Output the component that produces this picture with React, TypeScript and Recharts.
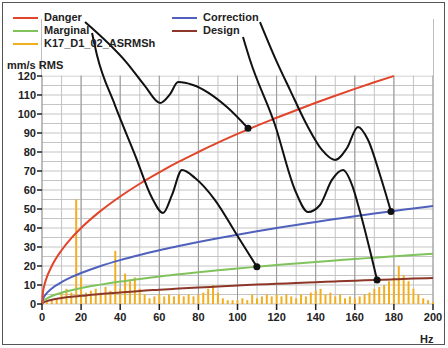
import {
  ComposedChart,
  Line,
  Bar,
  XAxis,
  YAxis,
  CartesianGrid,
  ReferenceArea,
  ReferenceDot,
} from "recharts";

// axis ticks and grid positions
const FREQ_TICKS = [0, 20, 40, 60, 80, 100, 120, 140, 160, 180, 200];
const LEVEL_TICKS = [0, 10, 20, 30, 40, 50, 60, 70, 80, 90, 100, 110, 120];
const GRID_HZ = [0, 10, 20, 30, 40, 50, 60, 70, 80, 90, 100, 110, 120, 130, 140, 150, 160, 170, 180, 190, 200];
const GRID_LEVEL = [0, 5, 10, 15, 20, 25, 30, 35, 40, 45, 50, 55, 60, 65, 70, 75, 80, 85, 90, 95, 100, 105, 110, 115, 120];

// limit curves (mm/s RMS)
const CURVE_HZ = [0, 0.5, 1, 2, 5, 10, 15, 20, 30, 40, 50, 60, 70, 80, 90, 100, 110, 120, 130, 140, 150, 160, 170, 180, 190, 200];
const DANGER = [0, 6.3, 9, 12.7, 20, 28.3, 34.7, 40, 49, 56.6, 63.3, 69.3, 74.9, 80, 84.9, 89.5, 93.9, 98, 102, 105.9, 109.6, 113.2, 116.7, 120, null, null];
const CORRECTION = [0, 2.6, 3.7, 5.2, 8.2, 11.5, 14.1, 16.3, 20, 23.1, 25.8, 28.3, 30.5, 32.6, 34.6, 36.5, 38.3, 40, 41.6, 43.2, 44.7, 46.2, 47.6, 49, 50.3, 51.6];
const MARGINAL = [0, 1.3, 1.9, 2.6, 4.2, 5.9, 7.2, 8.4, 10.2, 11.8, 13.2, 14.5, 15.6, 16.7, 17.7, 18.7, 19.6, 20.5, 21.3, 22.1, 22.9, 23.7, 24.4, 25.1, 25.8, 26.4];
const DESIGN = [0, 0.7, 1, 1.4, 2.2, 3.1, 3.8, 4.3, 5.3, 6.1, 6.9, 7.5, 8.1, 8.7, 9.2, 9.7, 10.2, 10.6, 11.1, 11.5, 11.9, 12.3, 12.6, 13, 13.4, 13.7];

// measured spectrum K17_D1_02_ASRMSh
const SPEC_HZ = [
  2.5, 5, 7.5, 10, 12.5, 15, 17.5, 20, 22.5, 25, 27.5, 30, 32.5, 35, 37.5, 40, 42.5, 45, 47.5, 50,
  52.5, 55, 57.5, 60, 62.5, 65, 67.5, 70, 72.5, 75, 77.5, 80, 82.5, 85, 87.5, 90, 92.5, 95, 97.5, 100,
  102.5, 105, 107.5, 110, 112.5, 115, 117.5, 120, 122.5, 125, 127.5, 130, 132.5, 135, 137.5, 140, 142.5, 145, 147.5, 150,
  152.5, 155, 157.5, 160, 162.5, 165, 167.5, 170, 172.5, 175, 177.5, 180, 182.5, 185, 187.5, 190, 192.5, 195, 197.5, 200,
];
const SPEC_AMP = [
  1, 2, 3, 6, 8, 6, 55, 14, 6, 7, 8, 6, 9, 7, 28, 8, 16, 12, 14, 8,
  5, 3, 4, 5, 4, 5, 4, 5, 4, 5, 4, 5, 6, 8, 10, 6, 3, 2, 2, 2,
  3, 2, 5, 3, 4, 5, 4, 5, 4, 5, 4, 3, 5, 4, 6, 7, 8, 5, 6, 4,
  5, 3, 4, 3, 4, 5, 6, 8, 9, 10, 12, 14, 20, 15, 12, 8, 5, 3, 2, 1,
];

// callout lines from legend labels to curves
const DANGER_CALL_HZ = [22, 43.5, 52.7, 60.4, 65.5, 69.6, 77.2, 94.6, 105.4];
const DANGER_CALL_V = [148.4, 126.8, 114.7, 105.8, 110.5, 116.8, 115.3, 103.7, 92.5];
const MARGINAL_CALL_HZ = [25.6, 28.1, 37.3, 47.6, 56.3, 61.9, 66.5, 71.6, 78.3, 88.5, 99.7, 109.9];
const MARGINAL_CALL_V = [142.6, 131.1, 104.7, 78.4, 55.8, 47.9, 57.4, 70.5, 66.3, 54.7, 36.3, 19.6];
const DESIGN_CALL_HZ = [102.8, 106.4, 119.2, 129.4, 136.1, 142.2, 148.3, 154, 158.6, 162.7, 171.4];
const DESIGN_CALL_V = [140.5, 128.4, 94.2, 60, 48.4, 52.1, 65.3, 70.5, 62.6, 48.4, 12.6];
const CORRECTION_CALL_HZ = [111.5, 119.7, 126.9, 135.5, 143.2, 149.9, 156, 161.6, 166.8, 172.9, 178.5];
const CORRECTION_CALL_V = [148.4, 128.4, 112.6, 94.2, 81.1, 75.8, 82.1, 93.2, 86.3, 67.9, 48.7];

const RED = "#e2452b";
const BLUE = "#4f60bd";
const GREEN = "#80c35c";
const BROWN = "#8c3727";
const ORANGE = "#f3ae20";
const FONT = "'Liberation Sans', Arial, sans-serif";

const spectrum = SPEC_HZ.map((hz, i) => ({ hz, amp: SPEC_AMP[i] }));
const curves = CURVE_HZ.map((hz, i) => ({
  hz,
  danger: DANGER[i],
  correction: CORRECTION[i],
  marginal: MARGINAL[i],
  design: DESIGN[i],
}));
const callout = (hzs: number[], vs: number[]) => hzs.map((hz, i) => ({ hz, v: vs[i] }));
const callouts = [
  callout(DANGER_CALL_HZ, DANGER_CALL_V),
  callout(MARGINAL_CALL_HZ, MARGINAL_CALL_V),
  callout(DESIGN_CALL_HZ, DESIGN_CALL_V),
  callout(CORRECTION_CALL_HZ, CORRECTION_CALL_V),
];

const tickStyle = { fontSize: 11, fontWeight: 700, fill: "#222", fontFamily: FONT };
const textStyle: React.CSSProperties = {
  position: "absolute",
  fontSize: 11,
  fontWeight: 700,
  color: "#222",
  fontFamily: FONT,
  lineHeight: "13px",
  whiteSpace: "nowrap",
};

// thin spectral spike, centred on the bar's x position
const Spike = (props: any) => {
  const { x, y, width, height } = props;
  if (!height || height <= 0) return <g />;
  const cx = x + (width || 0) / 2;
  return <rect x={cx - 1} y={y} width={2} height={height} fill={ORANGE} />;
};

function LegendItem({ x, y, color, label }: { x: number; y: number; color: string; label: string }) {
  return (
    <>
      <div style={{ position: "absolute", left: x, top: y - 1, width: 25, height: 2, background: color }} />
      <div style={{ ...textStyle, left: x + 31, top: y - 7 }}>{label}</div>
    </>
  );
}

export default function App() {
  return (
    <div style={{ position: "absolute", left: 0, top: 0, width: 448, height: 348, background: "#fff" }}>
      <ComposedChart
        width={448}
        height={348}
        data={spectrum}
        margin={{ top: 19, right: 15, left: 6, bottom: 14 }}
      >
        <CartesianGrid stroke="#c4c4c4" strokeWidth={1} verticalValues={GRID_HZ} horizontalValues={GRID_LEVEL} />
        <CartesianGrid stroke="#999" strokeWidth={1} horizontal={false} verticalValues={FREQ_TICKS} />
        <ReferenceArea x1={0} x2={200} y1={120.3} y2={150} fill="#fff" fillOpacity={1} stroke="none" />
        <XAxis
          dataKey="hz"
          type="number"
          domain={[0, 200]}
          ticks={FREQ_TICKS}
          axisLine={false}
          tickLine={{ stroke: "#222", strokeWidth: 1.5 }}
          tickSize={6}
          tickMargin={3}
          height={30}
          tick={tickStyle}
          interval={0}
        />
        <YAxis
          type="number"
          domain={[0, 150]}
          ticks={LEVEL_TICKS}
          axisLine={false}
          tickLine={{ stroke: "#222", strokeWidth: 1.5 }}
          tickSize={5}
          tickMargin={1}
          width={36}
          tick={tickStyle}
          interval={0}
        />
        <Bar dataKey="amp" fill={ORANGE} barSize={2} shape={Spike} isAnimationActive={false} />
        <Line data={curves} dataKey="design" type="monotone" stroke={BROWN} strokeWidth={2} dot={false} isAnimationActive={false} />
        <Line data={curves} dataKey="marginal" type="monotone" stroke={GREEN} strokeWidth={2} dot={false} isAnimationActive={false} />
        <Line data={curves} dataKey="correction" type="monotone" stroke={BLUE} strokeWidth={2} dot={false} isAnimationActive={false} />
        <Line data={curves} dataKey="danger" type="monotone" stroke={RED} strokeWidth={2} dot={false} isAnimationActive={false} />
        {callouts.map((pts, i) => (
          <Line
            key={`call-${i}`}
            data={pts}
            dataKey="v"
            type="monotone"
            stroke="#111"
            strokeWidth={2}
            dot={false}
            isAnimationActive={false}
          />
        ))}
        {callouts.map((pts, i) => (
          <ReferenceDot
            key={`end-${i}`}
            x={pts[pts.length - 1].hz}
            y={pts[pts.length - 1].v}
            r={3.5}
            fill="#111"
            stroke="none"
          />
        ))}
      </ComposedChart>
      <LegendItem x={13} y={18} color={RED} label="Danger" />
      <LegendItem x={13} y={31} color={GREEN} label="Marginal" />
      <LegendItem x={13} y={44} color={ORANGE} label="K17_D1_02_ASRMSh" />
      <LegendItem x={172} y={18} color={BLUE} label="Correction" />
      <LegendItem x={172} y={31} color={BROWN} label="Design" />
      <div style={{ ...textStyle, left: 7, top: 59 }}>mm/s RMS</div>
      <div style={{ ...textStyle, left: 420, top: 333 }}>Hz</div>
      <div
        style={{
          position: "absolute",
          left: 2,
          top: 2,
          width: 441,
          height: 341,
          border: "1.5px solid #555",
          pointerEvents: "none",
        }}
      />
    </div>
  );
}
